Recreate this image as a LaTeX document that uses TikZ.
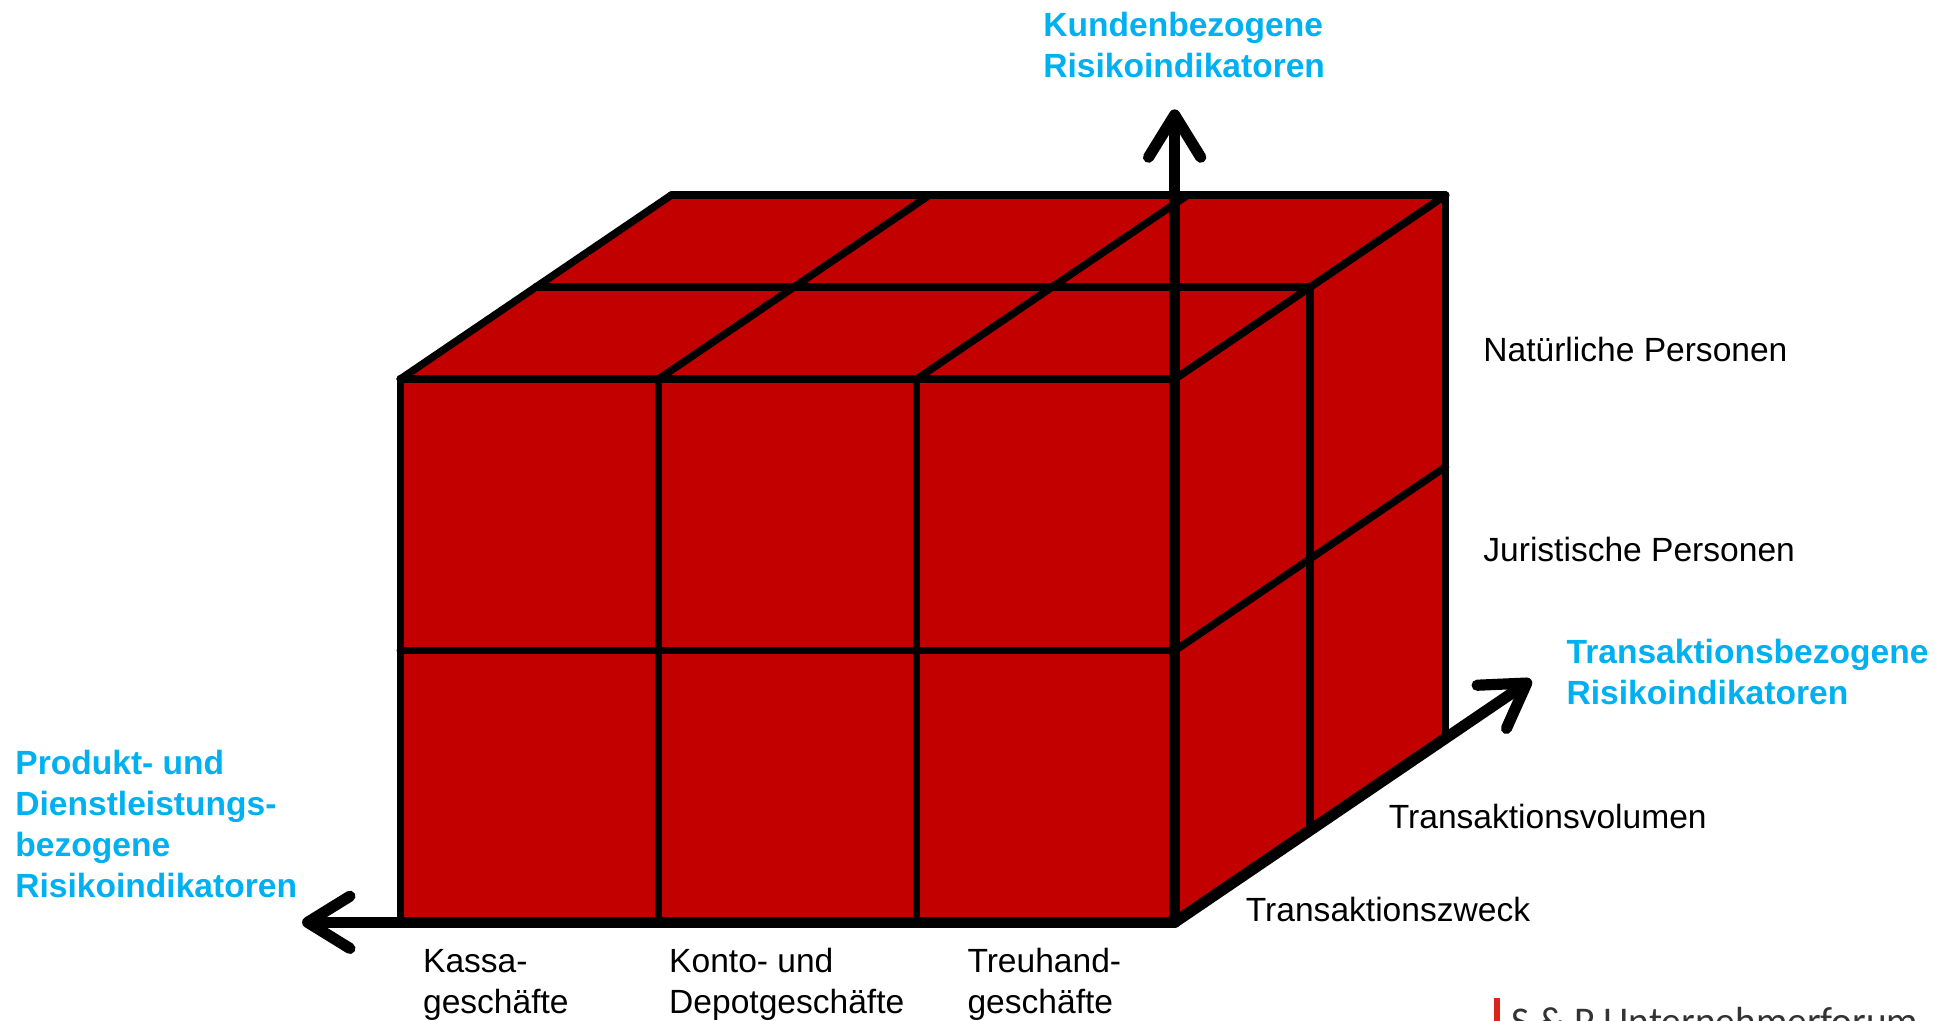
\documentclass[tikz,border=0pt]{standalone}
\usepackage{fontspec}
\setmainfont{Liberation Sans}
\newfontfamily\footfont{Carlito}
\usetikzlibrary{arrows.meta}
\definecolor{cubered}{RGB}{194,0,0}
\definecolor{axisblue}{RGB}{0,176,240}
\definecolor{barred}{RGB}{218,37,29}

\begin{document}
\begin{tikzpicture}[
    x=0.5pt, y=-0.5pt,
    face/.style={fill=cubered},
    edge/.style={line width=3pt, line cap=round, line join=round},
    axis/.style={line width=4.5pt, line cap=round, -{Straight Barb[length=17pt,width=21pt,round]}},
    axislabel/.style={text=axisblue, font=\bfseries\fontsize{13.5}{16.5}\selectfont, align=left, anchor=west, inner sep=0pt},
    itemlabel/.style={font=\fontsize{13.5}{16.5}\selectfont, align=left, anchor=west, inner sep=0pt}
]

\useasboundingbox (0,0) rectangle (1568,821);
\clip (0,0) rectangle (1568,821);

% front face corners, depth vector, cell size
\def\xl{322} \def\xr{945} \def\yt{305} \def\yb{742}
\def\dx{218} \def\dy{-148}
\def\w{207.67} \def\h{218.5}

% =========================
% CUBE FACES
% =========================
\fill[face] (\xl,\yt) rectangle (\xr,\yb);
\fill[face] (\xl,\yt) -- (\xr,\yt) -- ++(\dx,\dy) -- ({\xl+\dx},{\yt+\dy}) -- cycle;
\fill[face] (\xr,\yt) -- ++(\dx,\dy) -- ({\xr+\dx},{\yb+\dy}) -- (\xr,\yb) -- cycle;

% =========================
% GRID LINES
% =========================
\foreach \i in {0,...,3} {
    \draw[edge] ({\xl+\i*\w},\yt) -- ({\xl+\i*\w},\yb);
    \draw[edge] ({\xl+\i*\w},\yt) -- ++(\dx,\dy);
}
\foreach \j in {0,1,2} {
    \draw[edge] (\xl,{\yt+\j*\h}) -- (\xr,{\yt+\j*\h});
    \draw[edge] (\xr,{\yt+\j*\h}) -- ++(\dx,\dy);
    \draw[edge] ({\xl+\j*\dx/2},{\yt+\j*\dy/2}) -- ({\xr+\j*\dx/2},{\yt+\j*\dy/2});
    \draw[edge] ({\xr+\j*\dx/2},{\yt+\j*\dy/2}) -- ({\xr+\j*\dx/2},{\yb+\j*\dy/2});
}

% =========================
% AXES
% =========================
\coordinate (O) at (\xr,\yb);
\coordinate (kTip) at (\xr,88);
\coordinate (pTip) at (243,\yb);
\coordinate (tTip) at (1232,547);

\draw[axis] (O) -- (kTip);
\draw[axis] (O) -- (pTip);
\draw[axis] (O) -- (tTip);

% =========================
% LABELS
% =========================
\node[axislabel] (kunden) at (839,36.5) {Kundenbezogene\\Risikoindikatoren};
\node[axislabel] (trans) at (1260,540.5) {Transaktionsbezogene\\Risikoindikatoren};
\node[axislabel] (produkt) at (12,663) {Produkt- und\\Dienstleistungs-\\bezogene\\Risikoindikatoren};

\node[itemlabel] (natuerlich) at (1193,281) {Natürliche Personen};
\node[itemlabel] (juristisch) at (1193,442) {Juristische Personen};
\node[itemlabel] (volumen) at (1117,657) {Transaktionsvolumen};
\node[itemlabel] (zweck) at (1002,732) {Transaktionszweck};

\node[itemlabel] (kassa) at (340,792) {Kassa-\\geschäfte};
\node[itemlabel] (konto) at (538,792) {Konto- und\\Depotgeschäfte};
\node[itemlabel] (treuhand) at (778,792) {Treuhand-\\geschäfte};

% footer (cut off at the bottom)
\fill[barred] (1202,803) rectangle (1207,821);
\node[anchor=base west, inner sep=0pt, font=\footfont\fontsize{15.8}{19}\selectfont, text=black!80] (forum) at (1216,832) {S \& P Unternehmerforum};
\end{tikzpicture}
\end{document}
